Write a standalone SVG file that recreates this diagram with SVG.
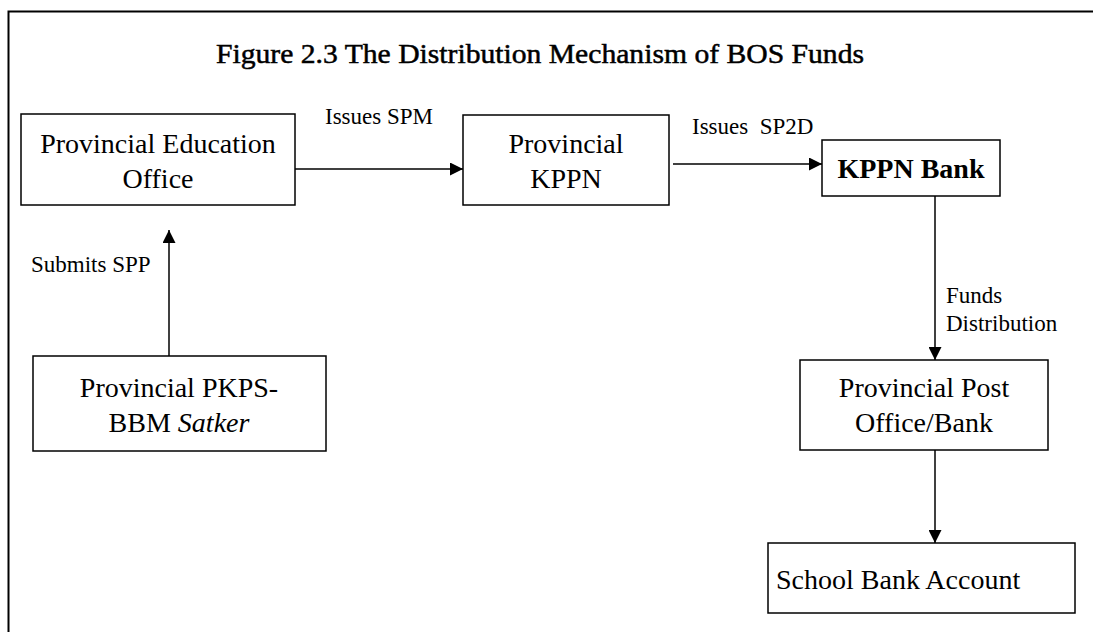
<svg xmlns="http://www.w3.org/2000/svg" width="1093" height="632" viewBox="0 0 1093 632">
  <defs>
    <style>
      .frame { fill: none; stroke: #000; stroke-width: 2; }
      .box { fill: #fff; stroke: #000; stroke-width: 1.5; }
      .edge { fill: none; stroke: #000; stroke-width: 1.5; }
      .title { font-family: "Liberation Serif", serif; font-size: 28px; fill: #000; stroke: #000; stroke-width: 0.5; }
      .node { font-family: "Liberation Serif", serif; font-size: 28px; fill: #000; text-anchor: middle; }
      .node.left { text-anchor: start; }
      .lbl { font-family: "Liberation Serif", serif; font-size: 23px; fill: #000; }
    </style>
    <marker id="arrow" viewBox="0 0 12 12" refX="12" refY="6" markerWidth="13" markerHeight="13" markerUnits="userSpaceOnUse" orient="auto">
      <path d="M0,0 L12,6 L0,12 Z" fill="#000"/>
    </marker>
  </defs>

  <!-- outer frame: only top and left edges fall inside the canvas -->
  <path class="frame" d="M8.5,640 V11.5 H1100"/>

  <text class="title" x="216" y="63" textLength="648" lengthAdjust="spacingAndGlyphs">Figure 2.3 The Distribution Mechanism of BOS Funds</text>

  <g id="connectors">
    <line class="edge" x1="295" y1="169" x2="463" y2="169" marker-end="url(#arrow)"/>
    <line class="edge" x1="673" y1="164" x2="822" y2="164" marker-end="url(#arrow)"/>
    <line class="edge" x1="169" y1="356" x2="169" y2="230" marker-end="url(#arrow)"/>
    <line class="edge" x1="935" y1="194" x2="935" y2="360" marker-end="url(#arrow)"/>
    <line class="edge" x1="935" y1="448" x2="935" y2="543" marker-end="url(#arrow)"/>
    <text class="lbl" x="325" y="124">Issues SPM</text>
    <text class="lbl" x="692" y="134" xml:space="preserve">Issues  SP2D</text>
    <text class="lbl" x="31" y="272">Submits SPP</text>
    <text class="lbl" x="946" y="303">Funds</text>
    <text class="lbl" x="946" y="331">Distribution</text>
  </g>

  <g id="node-education-office">
    <rect class="box" x="21" y="114" width="274" height="91"/>
    <text class="node" x="158" y="153">Provincial Education</text>
    <text class="node" x="158" y="188">Office</text>
  </g>

  <g id="node-provincial-kppn">
    <rect class="box" x="463" y="115" width="206" height="90"/>
    <text class="node" x="566" y="153">Provincial</text>
    <text class="node" x="566" y="188">KPPN</text>
  </g>

  <g id="node-kppn-bank">
    <rect class="box" x="822" y="140" width="178" height="56"/>
    <text class="node" x="911" y="178" font-weight="bold">KPPN Bank</text>
  </g>

  <g id="node-pkps-satker">
    <rect class="box" x="33" y="356" width="293" height="95"/>
    <text class="node" x="179" y="397">Provincial PKPS-</text>
    <text class="node" x="179" y="432">BBM <tspan font-style="italic">Satker</tspan></text>
  </g>

  <g id="node-post-office">
    <rect class="box" x="800" y="360" width="248" height="90"/>
    <text class="node" x="924" y="397">Provincial Post</text>
    <text class="node" x="924" y="432">Office/Bank</text>
  </g>

  <g id="node-school-account">
    <rect class="box" x="768" y="543" width="307" height="70"/>
    <text class="node left" x="776" y="589">School Bank Account</text>
  </g>
</svg>
